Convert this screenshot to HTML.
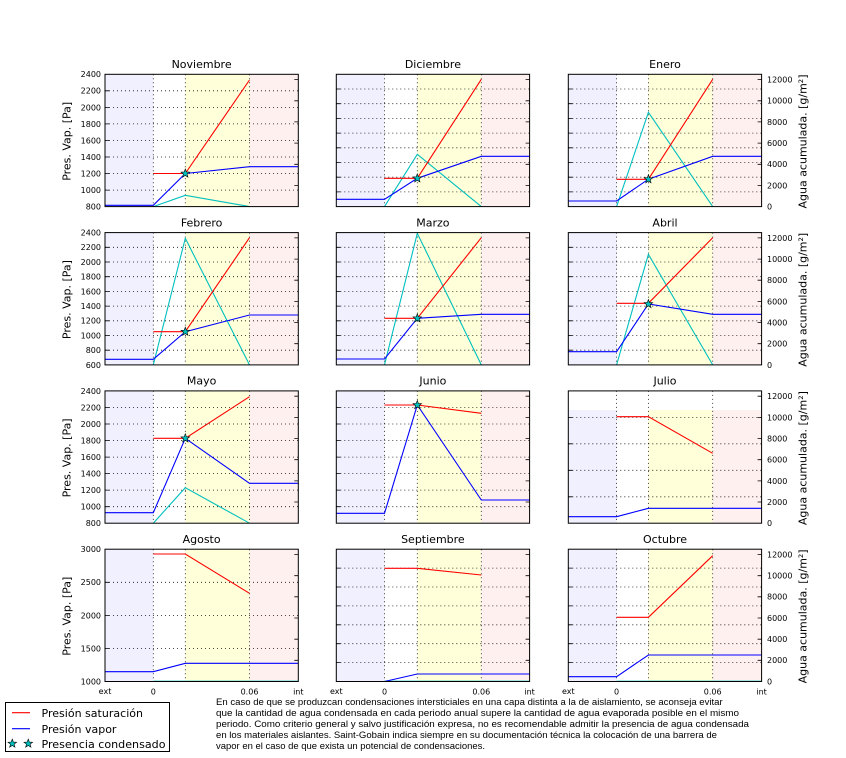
<!DOCTYPE html>
<html><head><meta charset="utf-8"><style>
html,body{margin:0;padding:0;background:#fff;}
svg{display:block;}
.g{stroke:#111;stroke-width:0.8;stroke-dasharray:1 3;fill:none;}
.t{stroke:#000;stroke-width:0.8;fill:none;}
.f{fill:none;stroke:#000;stroke-width:1;}
.r{fill:none;stroke:#ff0000;stroke-width:1.1;}
.b{fill:none;stroke:#0000ff;stroke-width:1.1;}
.c{fill:none;stroke:#00bfbf;stroke-width:1.1;}
.cf{fill:none;stroke:#00bfbf;stroke-width:1;opacity:0.45;}
text{font-family:"DejaVu Sans","Liberation Sans",sans-serif;fill:#000;}
.tk{font-size:8px;}
.tl{font-size:11px;text-anchor:middle;}
.ya{font-size:11px;text-anchor:middle;}
.lg{font-size:11px;}
.p{font-family:"Liberation Sans",sans-serif;font-size:9px;}
</style></head><body>
<svg width="846" height="758" viewBox="0 0 846 758" xmlns="http://www.w3.org/2000/svg">
<defs>
<path id="st" d="M0,-4.5L1.12,-1.54L4.28,-1.39L1.81,0.59L2.65,3.64L0,1.9L-2.65,3.64L-1.81,0.59L-4.28,-1.39L-1.12,-1.54Z" fill="#00bfbf" stroke="#000" stroke-width="0.6"/>
</defs>

<!-- ================= ROW 1 ================= -->
<!-- Noviembre -->
<rect x="105" y="74.3" width="48.3" height="132.3" fill="#f0f0ff"/>
<rect x="185.3" y="74.3" width="64.2" height="132.3" fill="#ffffd9"/>
<rect x="249.5" y="74.3" width="48.8" height="132.3" fill="#fff0f0"/>
<path class="g" d="M105,90.8H298.3M105,107.4H298.3M105,123.9H298.3M105,140.5H298.3M105,157H298.3M105,173.5H298.3M105,190.1H298.3M153.3,74.3V206.6M185.3,74.3V206.6M249.5,74.3V206.6"/>
<path class="t" d="M105,90.8h4M105,107.4h4M105,123.9h4M105,140.5h4M105,157h4M105,173.5h4M105,190.1h4M298.3,185.4h-4M298.3,164.3h-4M298.3,143.1h-4M298.3,121.9h-4M298.3,100.8h-4M298.3,79.6h-4"/>
<path class="c" d="M153.3,206.6L185.3,195.3L249.5,206.6"/>
<path class="r" d="M153.3,173.5L185.3,173.5L249.5,80"/>
<path class="b" d="M105,205.3L153.3,205.3L185.3,173.5L249.5,166.7L298.3,166.7"/>
<use href="#st" transform="translate(185.3,173.5)"/>
<rect class="f" x="105" y="74.3" width="193.3" height="132.3"/>
<text class="tl" x="201.6" y="68">Noviembre</text>

<!-- Diciembre -->
<rect x="336.3" y="74.3" width="48.2" height="132.3" fill="#f0f0ff"/>
<rect x="417.3" y="74.3" width="64" height="132.3" fill="#ffffd9"/>
<rect x="481.3" y="74.3" width="48.3" height="132.3" fill="#fff0f0"/>
<path class="g" d="M336.3,89H529.6M336.3,103.7H529.6M336.3,118.4H529.6M336.3,133.1H529.6M336.3,147.8H529.6M336.3,162.5H529.6M336.3,177.2H529.6M336.3,191.9H529.6M384.5,74.3V206.6M417.3,74.3V206.6M481.3,74.3V206.6"/>
<path class="t" d="M336.3,89h4M336.3,103.7h4M336.3,118.4h4M336.3,133.1h4M336.3,147.8h4M336.3,162.5h4M336.3,177.2h4M336.3,191.9h4M529.6,185.4h-4M529.6,164.3h-4M529.6,143.1h-4M529.6,121.9h-4M529.6,100.8h-4M529.6,79.6h-4"/>
<path class="c" d="M384.5,206.6L417.3,154.3L481.3,206.6"/>
<path class="r" d="M384.5,178.3L417.3,178.3L481.3,79.3"/>
<path class="b" d="M336.3,199.3L384.5,199.3L417.3,178.3L481.3,156.3L529.6,156.3"/>
<use href="#st" transform="translate(417.3,178.3)"/>
<rect class="f" x="336.3" y="74.3" width="193.3" height="132.3"/>
<text class="tl" x="432.9" y="68">Diciembre</text>

<!-- Enero -->
<rect x="568.3" y="74.3" width="48.3" height="132.3" fill="#f0f0ff"/>
<rect x="648.4" y="74.3" width="64.3" height="132.3" fill="#ffffd9"/>
<rect x="712.7" y="74.3" width="48.9" height="132.3" fill="#fff0f0"/>
<path class="g" d="M568.3,89H761.6M568.3,103.7H761.6M568.3,118.4H761.6M568.3,133.1H761.6M568.3,147.8H761.6M568.3,162.5H761.6M568.3,177.2H761.6M568.3,191.9H761.6M616.6,74.3V206.6M648.4,74.3V206.6M712.7,74.3V206.6"/>
<path class="t" d="M568.3,89h4M568.3,103.7h4M568.3,118.4h4M568.3,133.1h4M568.3,147.8h4M568.3,162.5h4M568.3,177.2h4M568.3,191.9h4M761.6,185.4h-4M761.6,164.3h-4M761.6,143.1h-4M761.6,121.9h-4M761.6,100.8h-4M761.6,79.6h-4"/>
<path class="c" d="M616.6,206.6L648.4,112.3L712.7,206.6"/>
<path class="r" d="M616.6,179.3L648.4,179.3L712.7,79.3"/>
<path class="b" d="M568.3,201L616.6,201L648.4,179.2L712.7,156.3L761.6,156.3"/>
<use href="#st" transform="translate(648.4,179.2)"/>
<rect class="f" x="568.3" y="74.3" width="193.3" height="132.3"/>
<text class="tl" x="665" y="68">Enero</text>

<!-- ================= ROW 2 ================= -->
<!-- Febrero -->
<rect x="105" y="232.6" width="48.3" height="132.3" fill="#f0f0ff"/>
<rect x="185.3" y="232.6" width="64.2" height="132.3" fill="#ffffd9"/>
<rect x="249.5" y="232.6" width="48.8" height="132.3" fill="#fff0f0"/>
<path class="g" d="M105,247.3H298.3M105,262H298.3M105,276.7H298.3M105,291.4H298.3M105,306.1H298.3M105,320.8H298.3M105,335.5H298.3M105,350.2H298.3M153.3,232.6V364.9M185.3,232.6V364.9M249.5,232.6V364.9"/>
<path class="t" d="M105,247.3h4M105,262h4M105,276.7h4M105,291.4h4M105,306.1h4M105,320.8h4M105,335.5h4M105,350.2h4M298.3,343.7h-4M298.3,322.6h-4M298.3,301.4h-4M298.3,280.2h-4M298.3,259.1h-4M298.3,237.9h-4"/>
<path class="c" d="M153.3,364.9L185.3,238.3L249.5,364.9"/>
<path class="r" d="M153.3,331.7L185.3,331.7L249.5,237.7"/>
<path class="b" d="M105,359.3L153.3,359.3L185.3,331.7L249.5,315L298.3,315"/>
<use href="#st" transform="translate(185.3,331.7)"/>
<rect class="f" x="105" y="232.6" width="193.3" height="132.3"/>
<text class="tl" x="201.6" y="226.3">Febrero</text>

<!-- Marzo -->
<rect x="336.3" y="232.6" width="48.2" height="132.3" fill="#f0f0ff"/>
<rect x="417.3" y="232.6" width="64" height="132.3" fill="#ffffd9"/>
<rect x="481.3" y="232.6" width="48.3" height="132.3" fill="#fff0f0"/>
<path class="g" d="M336.3,247.3H529.6M336.3,262H529.6M336.3,276.7H529.6M336.3,291.4H529.6M336.3,306.1H529.6M336.3,320.8H529.6M336.3,335.5H529.6M336.3,350.2H529.6M384.5,232.6V364.9M417.3,232.6V364.9M481.3,232.6V364.9"/>
<path class="t" d="M336.3,247.3h4M336.3,262h4M336.3,276.7h4M336.3,291.4h4M336.3,306.1h4M336.3,320.8h4M336.3,335.5h4M336.3,350.2h4M529.6,343.7h-4M529.6,322.6h-4M529.6,301.4h-4M529.6,280.2h-4M529.6,259.1h-4M529.6,237.9h-4"/>
<path class="c" d="M384.5,364.9L417.3,233.3L481.3,364.9"/>
<path class="r" d="M384.5,318.3L417.3,318.3L481.3,237.7"/>
<path class="b" d="M336.3,359L384.5,359L417.3,318.3L481.3,314.3L529.6,314.3"/>
<use href="#st" transform="translate(417.3,318.3)"/>
<rect class="f" x="336.3" y="232.6" width="193.3" height="132.3"/>
<text class="tl" x="432.9" y="226.3">Marzo</text>

<!-- Abril -->
<rect x="568.3" y="232.6" width="48.3" height="132.3" fill="#f0f0ff"/>
<rect x="648.4" y="232.6" width="64.3" height="132.3" fill="#ffffd9"/>
<rect x="712.7" y="232.6" width="48.9" height="132.3" fill="#fff0f0"/>
<path class="g" d="M568.3,247.3H761.6M568.3,262H761.6M568.3,276.7H761.6M568.3,291.4H761.6M568.3,306.1H761.6M568.3,320.8H761.6M568.3,335.5H761.6M568.3,350.2H761.6M616.6,232.6V364.9M648.4,232.6V364.9M712.7,232.6V364.9"/>
<path class="t" d="M568.3,247.3h4M568.3,262h4M568.3,276.7h4M568.3,291.4h4M568.3,306.1h4M568.3,320.8h4M568.3,335.5h4M568.3,350.2h4M761.6,343.7h-4M761.6,322.6h-4M761.6,301.4h-4M761.6,280.2h-4M761.6,259.1h-4M761.6,237.9h-4"/>
<path class="c" d="M616.6,364.9L648.4,254.3L712.7,364.9"/>
<path class="r" d="M616.6,303.3L648.4,303.3L712.7,237.7"/>
<path class="b" d="M568.3,351.7L616.6,351.7L648.4,304L712.7,314.3L761.6,314.3"/>
<use href="#st" transform="translate(648.4,304)"/>
<rect class="f" x="568.3" y="232.6" width="193.3" height="132.3"/>
<text class="tl" x="665" y="226.3">Abril</text>

<!-- ================= ROW 3 ================= -->
<!-- Mayo -->
<rect x="105" y="390.9" width="48.3" height="132.3" fill="#f0f0ff"/>
<rect x="185.3" y="390.9" width="64.2" height="132.3" fill="#ffffd9"/>
<rect x="249.5" y="390.9" width="48.8" height="132.3" fill="#fff0f0"/>
<path class="g" d="M105,407.4H298.3M105,424H298.3M105,440.5H298.3M105,457.1H298.3M105,473.6H298.3M105,490.1H298.3M105,506.7H298.3M153.3,390.9V523.2M185.3,390.9V523.2M249.5,390.9V523.2"/>
<path class="t" d="M105,407.4h4M105,424h4M105,440.5h4M105,457.1h4M105,473.6h4M105,490.1h4M105,506.7h4M298.3,502h-4M298.3,480.9h-4M298.3,459.7h-4M298.3,438.5h-4M298.3,417.4h-4M298.3,396.2h-4"/>
<path class="c" d="M153.3,523.2L185.3,487.7L249.5,523.2"/>
<path class="r" d="M153.3,438.3L185.3,438.3L249.5,396.7"/>
<path class="b" d="M105,512.7L153.3,512.7L185.3,438.3L249.5,483.3L298.3,483.3"/>
<use href="#st" transform="translate(185.3,438.3)"/>
<rect class="f" x="105" y="390.9" width="193.3" height="132.3"/>
<text class="tl" x="201.6" y="384.6">Mayo</text>

<!-- Junio -->
<rect x="336.3" y="390.9" width="48.2" height="132.3" fill="#f0f0ff"/>
<rect x="417.3" y="390.9" width="64" height="132.3" fill="#ffffd9"/>
<rect x="481.3" y="390.9" width="48.3" height="132.3" fill="#fff0f0"/>
<path class="g" d="M336.3,407.4H529.6M336.3,424H529.6M336.3,440.5H529.6M336.3,457.1H529.6M336.3,473.6H529.6M336.3,490.1H529.6M336.3,506.7H529.6M384.5,390.9V523.2M417.3,390.9V523.2M481.3,390.9V523.2"/>
<path class="t" d="M336.3,407.4h4M336.3,424h4M336.3,440.5h4M336.3,457.1h4M336.3,473.6h4M336.3,490.1h4M336.3,506.7h4M529.6,502h-4M529.6,480.9h-4M529.6,459.7h-4M529.6,438.5h-4M529.6,417.4h-4M529.6,396.2h-4"/>
<path class="r" d="M384.5,405L417.3,405L481.3,413.3"/>
<path class="b" d="M336.3,513.3L384.5,513.3L417.3,405L481.3,500L529.6,500"/>
<use href="#st" transform="translate(417.3,405)"/>
<rect class="f" x="336.3" y="390.9" width="193.3" height="132.3"/>
<text class="tl" x="432.9" y="384.6">Junio</text>

<!-- Julio -->
<rect x="568.3" y="410" width="48.3" height="113.2" fill="#f0f0ff"/>
<rect x="648.4" y="410" width="64.3" height="113.2" fill="#ffffd9"/>
<rect x="712.7" y="410" width="48.9" height="113.2" fill="#fff0f0"/>
<path class="g" d="M568.3,417.4H761.6M568.3,443.8H761.6M568.3,470.3H761.6M568.3,496.8H761.6M616.6,390.9V523.2M648.4,390.9V523.2M712.7,390.9V523.2"/>
<path class="t" d="M568.3,417.4h4M568.3,443.8h4M568.3,470.3h4M568.3,496.8h4M761.6,502h-4M761.6,480.9h-4M761.6,459.7h-4M761.6,438.5h-4M761.6,417.4h-4M761.6,396.2h-4"/>
<path class="r" d="M616.6,416.7L648.4,416.7L712.7,453.3"/>
<path class="b" d="M568.3,516.7L616.6,516.7L648.4,508.3L761.6,508.3"/>
<rect class="f" x="568.3" y="390.9" width="193.3" height="132.3"/>
<text class="tl" x="665" y="384.6">Julio</text>

<!-- ================= ROW 4 ================= -->
<!-- Agosto -->
<rect x="105" y="549.2" width="48.3" height="132.3" fill="#f0f0ff"/>
<rect x="185.3" y="549.2" width="64.2" height="132.3" fill="#ffffd9"/>
<rect x="249.5" y="549.2" width="48.8" height="132.3" fill="#fff0f0"/>
<path class="g" d="M105,582.3H298.3M105,615.4H298.3M105,648.4H298.3M153.3,549.2V681.5M185.3,549.2V681.5M249.5,549.2V681.5"/>
<path class="t" d="M105,582.3h4M105,615.4h4M105,648.4h4M298.3,660.3h-4M298.3,639.2h-4M298.3,618h-4M298.3,596.8h-4M298.3,575.7h-4M298.3,554.5h-4"/>
<path class="cf" d="M153.3,680.8H298.3"/>
<path class="r" d="M153.3,554L185.3,554L249.5,593.3"/>
<path class="b" d="M105,671.7L153.3,671.7L185.3,663.3L298.3,663.3"/>
<rect class="f" x="105" y="549.2" width="193.3" height="132.3"/>
<text class="tl" x="201.6" y="542.9">Agosto</text>

<!-- Septiembre -->
<rect x="336.3" y="549.2" width="48.2" height="132.3" fill="#f0f0ff"/>
<rect x="417.3" y="549.2" width="64" height="132.3" fill="#ffffd9"/>
<rect x="481.3" y="549.2" width="48.3" height="132.3" fill="#fff0f0"/>
<path class="g" d="M336.3,568.1H529.6M336.3,587H529.6M336.3,605.9H529.6M336.3,624.8H529.6M336.3,643.7H529.6M336.3,662.6H529.6M384.5,549.2V681.5M417.3,549.2V681.5M481.3,549.2V681.5"/>
<path class="t" d="M336.3,568.1h4M336.3,587h4M336.3,605.9h4M336.3,624.8h4M336.3,643.7h4M336.3,662.6h4M529.6,660.3h-4M529.6,639.2h-4M529.6,618h-4M529.6,596.8h-4M529.6,575.7h-4M529.6,554.5h-4"/>
<path class="cf" d="M384.5,680.8H529.6"/>
<path class="r" d="M384.5,568.3L417.3,568.3L481.3,575"/>
<path class="b" d="M384.5,681.5L417.3,674L529.6,674"/>
<rect class="f" x="336.3" y="549.2" width="193.3" height="132.3"/>
<text class="tl" x="432.9" y="542.9">Septiembre</text>

<!-- Octubre -->
<rect x="568.3" y="549.2" width="48.3" height="132.3" fill="#f0f0ff"/>
<rect x="648.4" y="549.2" width="64.3" height="132.3" fill="#ffffd9"/>
<rect x="712.7" y="549.2" width="48.9" height="132.3" fill="#fff0f0"/>
<path class="g" d="M568.3,568.1H761.6M568.3,587H761.6M568.3,605.9H761.6M568.3,624.8H761.6M568.3,643.7H761.6M568.3,662.6H761.6M616.6,549.2V681.5M648.4,549.2V681.5M712.7,549.2V681.5"/>
<path class="t" d="M568.3,568.1h4M568.3,587h4M568.3,605.9h4M568.3,624.8h4M568.3,643.7h4M568.3,662.6h4M761.6,660.3h-4M761.6,639.2h-4M761.6,618h-4M761.6,596.8h-4M761.6,575.7h-4M761.6,554.5h-4"/>
<path class="cf" d="M616.6,680.8H761.6"/>
<path class="r" d="M616.6,617.3L648.4,617.3L712.7,555.7"/>
<path class="b" d="M568.3,676.7L616.6,676.7L648.4,655L761.6,655"/>
<rect class="f" x="568.3" y="549.2" width="193.3" height="132.3"/>
<text class="tl" x="665" y="542.9">Octubre</text>

<!-- ================= LEFT TICK LABELS ================= -->
<g class="tk" text-anchor="end">
<text x="101" y="77.2">2400</text><text x="101" y="93.7">2200</text><text x="101" y="110.3">2000</text><text x="101" y="126.8">1800</text><text x="101" y="143.4">1600</text><text x="101" y="159.9">1400</text><text x="101" y="176.4">1200</text><text x="101" y="193">1000</text><text x="101" y="209.5">800</text>
<text x="101" y="235.5">2400</text><text x="101" y="250.2">2200</text><text x="101" y="264.9">2000</text><text x="101" y="279.6">1800</text><text x="101" y="294.3">1600</text><text x="101" y="309">1400</text><text x="101" y="323.7">1200</text><text x="101" y="338.4">1000</text><text x="101" y="353.1">800</text><text x="101" y="367.8">600</text>
<text x="101" y="393.8">2400</text><text x="101" y="410.3">2200</text><text x="101" y="426.9">2000</text><text x="101" y="443.4">1800</text><text x="101" y="460">1600</text><text x="101" y="476.5">1400</text><text x="101" y="493">1200</text><text x="101" y="509.6">1000</text><text x="101" y="526.1">800</text>
<text x="101" y="552.1">3000</text><text x="101" y="585.2">2500</text><text x="101" y="618.3">2000</text><text x="101" y="651.3">1500</text><text x="101" y="684.4">1000</text>
</g>

<!-- ================= RIGHT TICK LABELS ================= -->
<g class="tk">
<text x="767" y="209.5">0</text><text x="767" y="188.3">2000</text><text x="767" y="167.2">4000</text><text x="767" y="146">6000</text><text x="767" y="124.8">8000</text><text x="767" y="103.7">10000</text><text x="767" y="82.5">12000</text>
<text x="767" y="367.8">0</text><text x="767" y="346.6">2000</text><text x="767" y="325.5">4000</text><text x="767" y="304.3">6000</text><text x="767" y="283.1">8000</text><text x="767" y="262">10000</text><text x="767" y="240.8">12000</text>
<text x="767" y="526.1">0</text><text x="767" y="504.9">2000</text><text x="767" y="483.8">4000</text><text x="767" y="462.6">6000</text><text x="767" y="441.4">8000</text><text x="767" y="420.3">10000</text><text x="767" y="399.1">12000</text>
<text x="767" y="684.4">0</text><text x="767" y="663.2">2000</text><text x="767" y="642.1">4000</text><text x="767" y="620.9">6000</text><text x="767" y="599.7">8000</text><text x="767" y="578.6">10000</text><text x="767" y="557.4">12000</text>
</g>

<!-- ================= X TICK LABELS ================= -->
<g class="tk" text-anchor="middle">
<text x="105" y="694">ext</text><text x="153.3" y="694.5">0</text><text x="249.5" y="694.5">0.06</text><text x="298.3" y="694.5">int</text>
<text x="336.3" y="694">ext</text><text x="384.5" y="694.5">0</text><text x="481.3" y="694.5">0.06</text><text x="529.6" y="694.5">int</text>
<text x="568.3" y="694">ext</text><text x="616.6" y="694.5">0</text><text x="712.7" y="694.5">0.06</text><text x="761.6" y="694.5">int</text>
</g>

<!-- ================= AXIS LABELS ================= -->
<text class="ya" transform="translate(70.5,141.3) rotate(-90)" textLength="79" lengthAdjust="spacingAndGlyphs">Pres. Vap. [Pa]</text>
<text class="ya" transform="translate(70.5,299.6) rotate(-90)" textLength="79" lengthAdjust="spacingAndGlyphs">Pres. Vap. [Pa]</text>
<text class="ya" transform="translate(70.5,457.9) rotate(-90)" textLength="79" lengthAdjust="spacingAndGlyphs">Pres. Vap. [Pa]</text>
<text class="ya" transform="translate(70.5,616.2) rotate(-90)" textLength="79" lengthAdjust="spacingAndGlyphs">Pres. Vap. [Pa]</text>

<text class="ya" transform="translate(806.5,141.5) rotate(-90)" textLength="134" lengthAdjust="spacingAndGlyphs">Agua acumulada. [g/m²]</text>
<text class="ya" transform="translate(806.5,299.8) rotate(-90)" textLength="134" lengthAdjust="spacingAndGlyphs">Agua acumulada. [g/m²]</text>
<text class="ya" transform="translate(806.5,458.1) rotate(-90)" textLength="134" lengthAdjust="spacingAndGlyphs">Agua acumulada. [g/m²]</text>
<text class="ya" transform="translate(806.5,616.4) rotate(-90)" textLength="134" lengthAdjust="spacingAndGlyphs">Agua acumulada. [g/m²]</text>

<!-- ================= LEGEND ================= -->
<rect x="5.5" y="702.5" width="164" height="49" fill="#fff" stroke="#000" stroke-width="1"/>
<path class="r" d="M12,712.7H30"/>
<text class="lg" x="41.5" y="716.8" textLength="101.5" lengthAdjust="spacingAndGlyphs">Presión saturación</text>
<path class="b" d="M12,728.7H30"/>
<text class="lg" x="41.5" y="732.8">Presión vapor</text>
<use href="#st" transform="translate(12.3,743.6)"/>
<use href="#st" transform="translate(28.3,743.6)"/>
<text class="lg" x="41.5" y="747.8" textLength="124" lengthAdjust="spacingAndGlyphs">Presencia condensado</text>

<!-- ================= NOTE TEXT ================= -->
<text class="p" x="216" y="704.8" textLength="506.7" lengthAdjust="spacingAndGlyphs">En caso de que se produzcan condensaciones intersticiales en una capa distinta a la de aislamiento, se aconseja evitar</text>
<text class="p" x="216" y="715.8" textLength="523" lengthAdjust="spacingAndGlyphs">que la cantidad de agua condensada en cada periodo anual supere la cantidad de agua evaporada posible en el mismo</text>
<text class="p" x="216" y="726.8" textLength="533" lengthAdjust="spacingAndGlyphs">periodo. Como criterio general y salvo justificación expresa, no es recomendable admitir la presencia de agua condensada</text>
<text class="p" x="216" y="737.8" textLength="501" lengthAdjust="spacingAndGlyphs">en los materiales aislantes. Saint-Gobain indica siempre en su documentación técnica la colocación de una barrera de</text>
<text class="p" x="216" y="748.8" textLength="269" lengthAdjust="spacingAndGlyphs">vapor en el caso de que exista un potencial de condensaciones.</text>
</svg>
</body></html>
